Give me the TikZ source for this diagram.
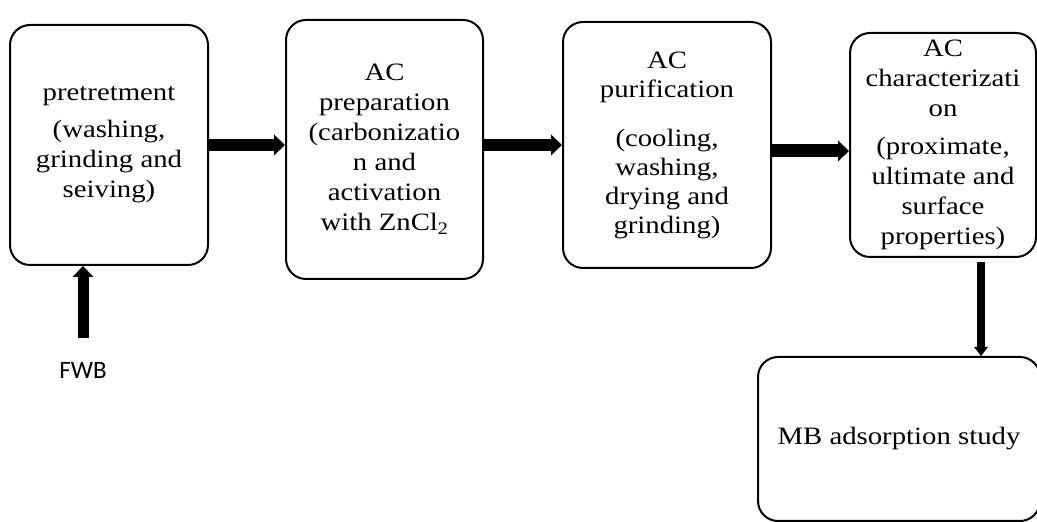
\documentclass[tikz,border=0pt]{standalone}
\usepackage{fontspec}
\setmainfont{Liberation Serif}[FakeStretch=1.15]
\newfontfamily\labelfont{Carlito}
\usepackage{tikz}
\usetikzlibrary{arrows.meta}
\usetikzlibrary{positioning}
\tikzstyle{stage} = [rectangle, rounded corners=20pt, draw=black, line width=2pt, align=center, inner sep=0pt, font=\fontsize{25}{30}\selectfont]
\tikzstyle{arrow} = [line width=12pt, -{Triangle[length=11pt, width=21pt, line width=0pt]}]
\tikzstyle{thinarrow} = [line width=8pt, -{Triangle[length=9pt, width=14pt, line width=0pt]}]

\begin{document}
\begin{tikzpicture}[x=1pt, y=1pt]
\useasboundingbox (0,0) rectangle (1037,522);
\clip (0,0) rectangle (1037,522);

\node (pre) [stage, minimum width=198pt, minimum height=240pt] at (109,377) {pretretment\\[7pt](washing,\\grinding and\\seiving)};

\node (prep) [stage, minimum width=197pt, minimum height=259pt] at (384.5,372.5) {AC\\preparation\\(carbonizatio\\n and\\activation\\with ZnCl\textsubscript{2}};

\node (pur) [stage, minimum width=208pt, minimum height=246pt, font=\fontsize{25}{29}\selectfont] at (667,377) {AC\\purification\\[20pt](cooling,\\washing,\\drying and\\grinding)};

\node (char) [stage, minimum width=186pt, minimum height=224pt] at (943,377) {AC\\characterizati\\on\\[8pt](proximate,\\ultimate and\\surface\\properties)};

\node (mb) [stage, minimum width=282pt, minimum height=164pt] at (899,83) {MB adsorption study};

\node (fwb) [font=\labelfont\fontsize{25}{30}\selectfont] at (83,152) {FWB};


\draw [arrow] (pre.east) -- (pre.east -| prep.west);
\draw [arrow] (prep.east |- pur.west) -- (pur.west);
\draw [arrow, line width=13pt] ([yshift=-6pt]pur.east) -- ([yshift=-6pt]pur.east -| char.west);
\draw [thinarrow, shorten <=4pt] ([xshift=38pt]char.south) -- ([xshift=38pt]char.south |- mb.north);
\draw [arrow, line width=11pt, shorten <=20pt] (fwb.north) -- (fwb.north |- pre.south);


\end{tikzpicture}
\end{document}
